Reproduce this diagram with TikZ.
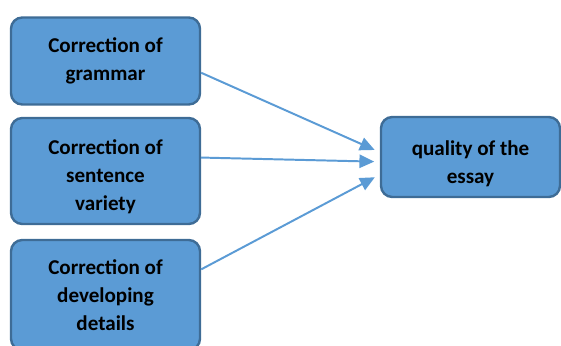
\documentclass[tikz,border=0pt]{standalone}
\usepackage{fontspec}
\setmainfont{Carlito}
\usepackage{xcolor}
\usetikzlibrary{arrows.meta}
\definecolor{boxfill}{RGB}{91, 155, 213}
\definecolor{boxline}{RGB}{62, 108, 150}
\definecolor{arrowblue}{RGB}{91, 155, 213}

\begin{document}
\begin{tikzpicture}[
    box/.style={draw=boxline, line width=1.7pt, fill=boxfill, rounded corners=8pt},
    boxtext/.style={align=center, font=\fontsize{15}{20}\selectfont\bfseries},
    link/.style={draw=arrowblue, line width=1.4pt, -{Triangle[length=10.5pt, width=9.5pt]}, shorten >=4pt}
]
    \clip (0,0) rectangle (14.025,-8.625);

    % causes on the left
    \node[box, boxtext, minimum width=4.725cm, minimum height=2.175cm] (gram) at (2.6375,-1.525) {
        Correction of\\
        grammar
    };
    \node[box, minimum width=4.725cm, minimum height=2.65cm,
        label={[boxtext, yshift=-0.15cm]center:{Correction of\\ sentence\\ variety}}] (sent) at (2.6375,-4.275) {};
    \node[box, boxtext, minimum width=4.725cm, minimum height=2.75cm] (det) at (2.6375,-7.375) {
        Correction of\\
        developing\\
        details
    };

    % effect on the right
    \node[box, minimum width=4.475cm, minimum height=2cm,
        label={[boxtext, yshift=-0.17cm]center:{quality of the\\ essay}}] (qual) at (11.7625,-3.925) {};

    % arrows
    \draw[link] (gram.-7) -- (qual.177);
    \draw[link] (sent.8) -- (qual.183);
    \draw[link] (det.15) -- (qual.191);
\end{tikzpicture}
\end{document}
